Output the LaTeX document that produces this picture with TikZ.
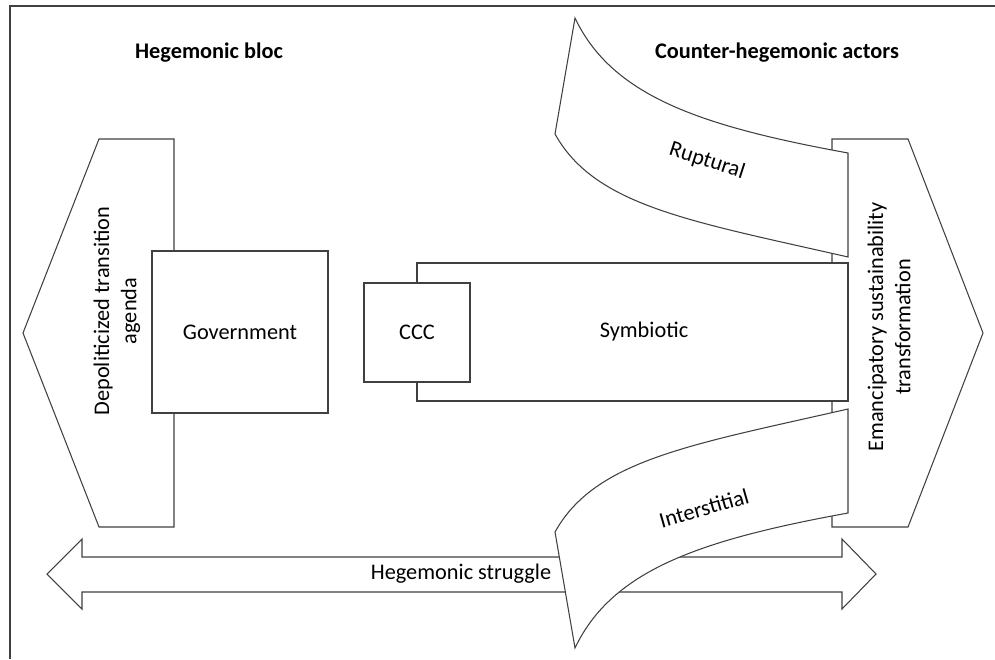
\documentclass[tikz,border=0pt]{standalone}
\usepackage{fontspec}
\setmainfont{Carlito}
\tikzset{
	shp/.style={draw=black!75, fill=white, line width=0.6pt},
	txt/.style={font=\fontsize{12.7}{15.5}\selectfont, align=center},
	head/.style={font=\fontsize{12.7}{15.5}\selectfont\bfseries}
}
\begin{document}
\begin{tikzpicture}
		\useasboundingbox (0,0) rectangle (19.9,13.18);
		\draw[black!75, line width=0.6pt] (0.2,0) -- (0.2,13.06) -- (19.9,13.06);
		
		\node[head] (hb) at (4.18,12.12) {Hegemonic bloc};
		\node[head] (cha) at (15.54,12.12) {Counter-hegemonic actors};
		
		% hegemonic bloc
		\draw[shp] (1.98,10.4) -- (3.48,10.4) -- (3.48,2.64) -- (1.98,2.64) -- (0.46,6.52) -- cycle;
		\node[txt, rotate=90] (depol) at (2.34,6.96) {Depoliticized transition\\agenda};
		\node[shp, txt, minimum width=3.52cm, minimum height=3.24cm] (gov) at (4.8,6.54) {Government};
		
		% counter-hegemonic side
		\draw[shp] (16.64,10.4) -- (18.16,10.4) -- (19.66,6.52) -- (18.16,2.64) -- (16.64,2.64) -- cycle;
		\node[txt, rotate=90] (eman) at (17.78,6.64) {Emancipatory sustainability\\transformation};
		\node[shp, minimum width=8.62cm, minimum height=2.76cm] (symb) at (12.65,6.54) {};
		\node[txt] (symbtxt) at (12.88,6.54) {Symbiotic};
		\node[shp, txt, minimum width=2.12cm, minimum height=1.98cm] (ccc) at (8.34,6.53) {CCC};
		
		% struggle arrow
		\draw[shp] (0.94,1.7) -- (1.64,2.4) -- (1.64,2.04) -- (16.84,2.04) -- (16.84,2.4) -- (17.52,1.7)
			-- (16.84,1.0) -- (16.84,1.34) -- (1.64,1.34) -- (1.64,1.0) -- cycle;
		\node[txt] (struggle) at (9.22,1.7) {Hegemonic struggle};
		
		% ruptural
		\draw[shp] (11.5,12.82) .. controls (12.24,11.26) and (14.0,10.66) .. (16.96,10.12) -- (16.96,8.04)
			.. controls (13.8,8.76) and (11.9,9.06) .. (11.1,10.5) -- cycle;
		\node[txt, rotate=-18] (rupt) at (14.14,9.96) {Ruptural};
		
		% interstitial
		\draw[shp] (11.1,2.54) .. controls (11.9,3.98) and (13.8,4.28) .. (16.96,5.0) -- (16.96,2.92)
			.. controls (14.0,2.38) and (12.24,1.78) .. (11.5,0.22) -- cycle;
		\node[txt, rotate=16] (inter) at (14.08,3.02) {Interstitial};
	\end{tikzpicture}
\end{document}
